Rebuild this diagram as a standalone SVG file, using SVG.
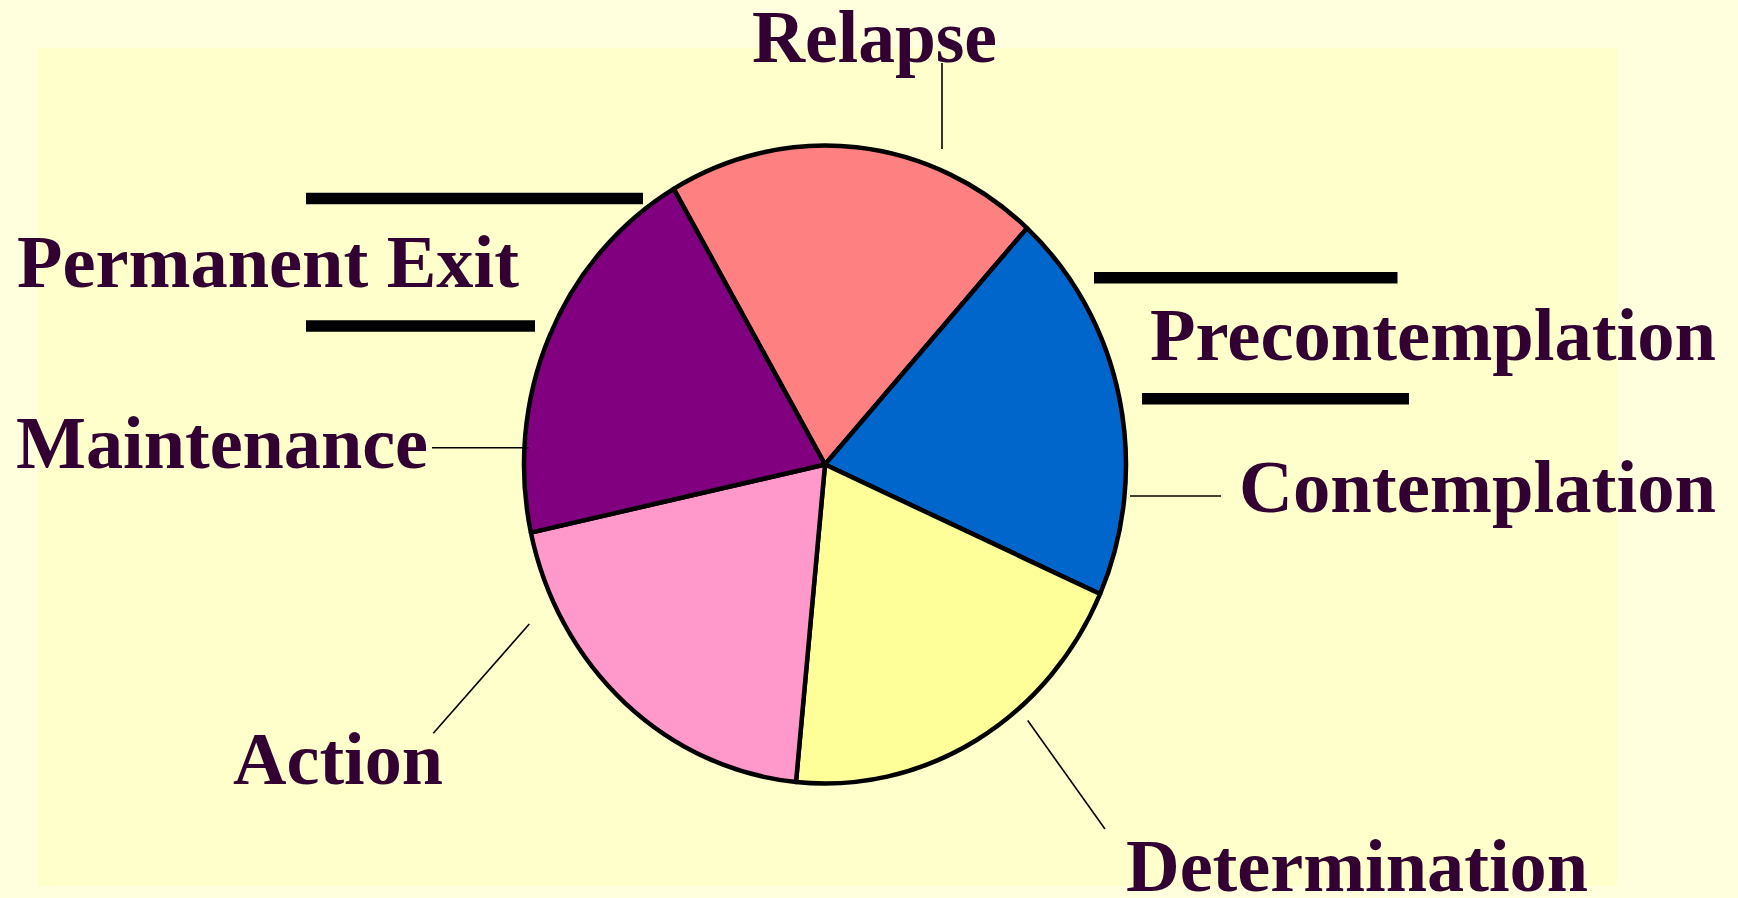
<svg xmlns="http://www.w3.org/2000/svg" width="1738" height="898" viewBox="0 0 1738 898">
<style>
.lbl{font-family:"Liberation Serif","Times New Roman",serif;font-weight:bold;font-size:75px;fill:#330033}
.wedge{stroke:#000;stroke-width:4.5;stroke-linejoin:round}
.lead{stroke:#000;stroke-width:1.6;fill:none}
.bar{stroke:#000;stroke-width:11.5;fill:none}
</style>
<rect x="0" y="0" width="1738" height="898" fill="#FFFFDD"/>
<rect x="38" y="48" width="1579" height="838" fill="#FFFFCC"/>
<g id="relapse">
<path class="wedge" fill="#FF8080" d="M825,464.5 L673.7,188.8 A301,319 0 0 1 1027,228.1 Z"/>
<text class="lbl" x="752" y="62" textLength="245" lengthAdjust="spacingAndGlyphs">Relapse</text>
</g>
<g id="precontemplation">
<path class="wedge" fill="#0066CC" d="M825,464.5 L1027,228.1 A301,319 0 0 1 1100.1,594 Z"/>
<text class="lbl" x="1150" y="360" textLength="566" lengthAdjust="spacingAndGlyphs">Precontemplation</text>
</g>
<g id="contemplation">
<text class="lbl" x="1239" y="512" textLength="477" lengthAdjust="spacingAndGlyphs">Contemplation</text>
</g>
<g id="determination">
<path class="wedge" fill="#FFFF99" d="M825,464.5 L1100.1,594 A301,319 0 0 1 796,782 Z"/>
<text class="lbl" x="1126" y="891" textLength="462" lengthAdjust="spacingAndGlyphs">Determination</text>
</g>
<g id="action">
<path class="wedge" fill="#FF99CC" d="M825,464.5 L796,782 A301,319 0 0 1 530.9,532.6 Z"/>
<text class="lbl" x="233" y="784" textLength="210" lengthAdjust="spacingAndGlyphs">Action</text>
</g>
<g id="maintenance">
<path class="wedge" fill="#800080" d="M825,464.5 L530.9,532.6 A301,319 0 0 1 673.7,188.8 Z"/>
<text class="lbl" x="16" y="468" textLength="412" lengthAdjust="spacingAndGlyphs">Maintenance</text>
</g>
<g id="permanent-exit">
<text class="lbl" x="17" y="287" textLength="502" lengthAdjust="spacingAndGlyphs">Permanent Exit</text>
</g>
<g id="connectors">
<line class="lead" x1="942" y1="63" x2="942" y2="149"/>
<line class="lead" x1="1130" y1="496" x2="1221" y2="496"/>
<line class="lead" x1="1027.7" y1="720.5" x2="1105" y2="829"/>
<line class="lead" x1="529.3" y1="624" x2="433.3" y2="733.3"/>
<line class="lead" x1="432" y1="447.7" x2="528.6" y2="447.7"/>
<line class="bar" x1="306" y1="198.5" x2="643" y2="198.5"/>
<line class="bar" x1="306" y1="326" x2="535" y2="326"/>
<line class="bar" x1="1094" y1="277.8" x2="1397.5" y2="277.8"/>
<line class="bar" x1="1142" y1="398.8" x2="1409" y2="398.8"/>
</g>
</svg>
